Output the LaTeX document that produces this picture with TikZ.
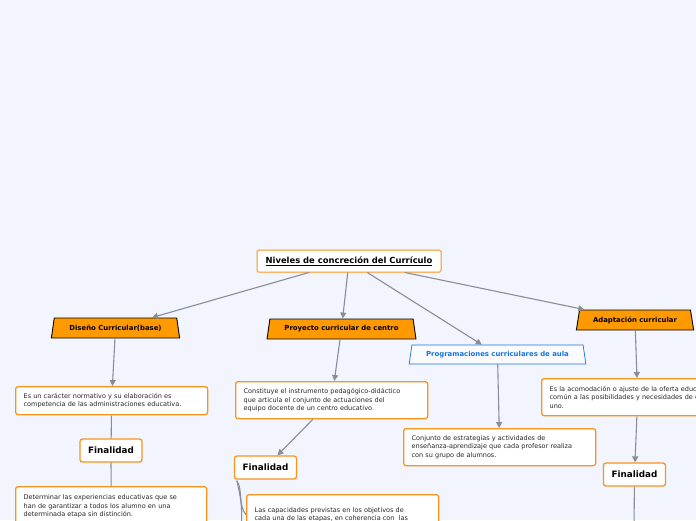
\documentclass[tikz,border=0pt]{standalone}
\usepackage{fontspec}
\setmainfont{DejaVu Sans}
\usetikzlibrary{arrows.meta,shapes.geometric}
\definecolor{bgc}{RGB}{242,245,254}
\definecolor{orng}{RGB}{247,148,30}
\definecolor{trfill}{RGB}{255,153,0}
\definecolor{conn}{RGB}{136,141,153}
\definecolor{aulab}{RGB}{25,115,215}
\tikzset{
  txtbox/.style={draw=orng,line width=1.3pt,fill=white,rounded corners=2.5pt,anchor=north west,
    text width=#1,align=left,inner xsep=8pt,inner ysep=4pt,font=\fontsize{6.5}{8.5}\selectfont,text=black!85},
  finbox/.style={draw=orng,line width=1.3pt,fill=white,rounded corners=2.5pt,minimum width=62pt,minimum height=23pt,
    inner sep=0pt,font=\fontsize{8.8}{10}\selectfont\bfseries},
  trap/.style={trapezium,trapezium stretches=true,trapezium angle=71,minimum width=#1,minimum height=20pt,
    inner sep=0pt,fill=trfill,draw=black,line width=0.9pt,font=\fontsize{6.9}{8}\selectfont\bfseries},
  conx/.style={draw=conn,line width=1.1pt},
  arr/.style={conx,-{Triangle[length=6pt,width=6pt]}},
}
\begin{document}
\begin{tikzpicture}[x=1pt,y=-1pt]
\useasboundingbox (0,0) rectangle (696,520);
\clip (0,0) rectangle (696,520);
\fill[bgc] (0,0) rectangle (696,520);

\node[draw=orng,line width=1pt,fill=white,rounded corners=1.5pt,minimum width=184pt,minimum height=22pt,inner sep=0pt,
  font=\fontsize{8.4}{10}\selectfont\bfseries] (root) at (349,261) {\underline{Niveles de concreción del Currículo}};

\node[trap=129pt] (dis) at (115.5,328) {Diseño Curricular(base)};
\node[trap=149pt] (pro) at (341.5,329) {Proyecto curricular de centro};
\node[trap=177pt,fill=bgc!40!white,draw=aulab,line width=0.7pt,text=aulab,minimum height=19pt] (aul) at (497.5,354.5) {Programaciones curriculares de aula};
\node[trap=118pt] (ada) at (635,320) {Adaptación curricular};

\node[txtbox=176pt,minimum height=28pt] (b1) at (15,386) {Es un carácter normativo y su elaboración es\\competencia de las administraciones educativa.};
\node[finbox] (f1) at (111,450.5) {Finalidad};
\node[txtbox=175pt,minimum height=40pt] (b2) at (15,486) {Determinar las experiencias educativas que se\\han de garantizar a todos los alumno en una\\determinada etapa sin distinción.};

\node[txtbox=176pt,minimum height=37pt] (b3) at (235,381) {Constituye el instrumento pedagógico-didáctico\\que articula el conjunto de actuaciones del\\equipo docente de un centro educativo\textcolor{aulab}{.}};
\node[finbox] (f2) at (265.5,467.5) {Finalidad};
\node[txtbox=176pt,minimum height=40pt] (b4) at (246,494) {Las capacidades previstas en los objetivos de\\cada una de las etapas, en coherencia con\ \ las};

\node[txtbox=176pt,minimum height=37pt] (b5) at (403,428) {Conjunto de estrategias y actividades de\\enseñanza-aprendizaje que cada profesor realiza\\con su grupo de alumnos.};

\node[txtbox=176pt,minimum height=37pt] (b6) at (541,378) {Es la acomodación o ajuste de la oferta educativa\\común a las posibilidades y necesidades de cada\\uno.};
\node[finbox] (f3) at (634.5,474.5) {Finalidad};

\coordinate (e2) at (241,530);
\coordinate (e3) at (634,530);

\draw[arr] (root) -- (dis);
\draw[arr] (root) -- (pro);
\draw[arr] (root) -- (aul);
\draw[arr] (root) -- (ada);
\draw[arr] (dis) -- (b1);
\draw[conx] (b1) -- (f1);
\draw[conx] (f1) -- (b2);
\draw[arr] (pro) -- (b3);
\draw[arr] (b3) -- (f2);
\draw[conx] (f2.south west) ++(3,1) .. controls (243,490) and (238,506) .. (b4.west);
\draw[conx] (f2.south west) ++(3,1) .. controls (240,495) and (243,505) .. (e2);
\draw[arr] (aul) -- (b5);
\draw[arr] (ada) -- (b6);
\draw[arr] (b6) -- (f3);
\draw[conx] (f3) -- (e3);
\end{tikzpicture}
\end{document}
